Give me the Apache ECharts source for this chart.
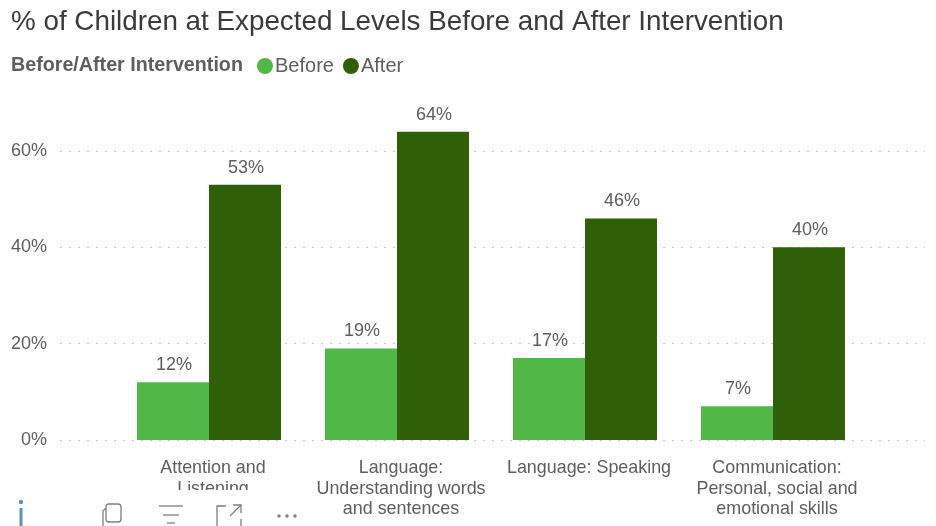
<!DOCTYPE html>
<html>
<head>
<meta charset="utf-8">
<style>html,body{margin:0;padding:0;background:#fff}#c{width:936px;height:526px}</style>
<script src="https://cdn.jsdelivr.net/npm/echarts@6/dist/echarts.min.js"></script>
</head>
<body>
<div id="c"></div>
<script>
const categories = [
  'Attention and\nListening',
  'Language:\nUnderstanding words\nand sentences',
  'Language: Speaking',
  'Communication:\nPersonal, social and\nemotional skills'
];
const before = [12, 19, 17, 7];
const after = [53, 64, 46, 40];
const yTicks = [0, 20, 40, 60];

const FONT = '"Liberation Sans", Arial, sans-serif';
const GREY = '#605E5C';
const ICON = '#7f7f7f';
const chart = echarts.init(document.getElementById('c'), null, { renderer: 'canvas' });

const stroke = { stroke: ICON, lineWidth: 1.3, fill: 'none' };
const valueLabel = {
  show: true, position: 'top', distance: 9, offset: [1, 1],
  formatter: '{c}%', color: GREY, fontSize: 18, fontFamily: FONT
};

chart.setOption({
  animation: false,
  backgroundColor: '#fff',
  textStyle: { fontFamily: FONT },
  title: [
    {
      text: '% of Children at Expected Levels Before and After Intervention',
      left: 6, top: 3,
      textStyle: { fontFamily: FONT, fontSize: 27.8, fontWeight: 'normal', color: '#3b3a39' }
    },
    {
      text: 'Before/After Intervention',
      left: 6, top: 51,
      textStyle: { fontFamily: FONT, fontSize: 19.7, fontWeight: 'bold', color: GREY }
    }
  ],
  legend: {
    left: 252, top: 51,
    icon: 'circle',
    itemWidth: 16, itemHeight: 16, itemGap: 9,
    textStyle: { fontFamily: FONT, fontSize: 20, color: GREY, padding: [0, 0, 0, -3] },
    data: ['Before', 'After']
  },
  grid: [
    { left: 115, right: 69, top: 54.6, bottom: 86 },
    { left: 60, right: 11, top: 54.6, bottom: 86 }
  ],
  xAxis: [
    {
      type: 'category', gridIndex: 0, data: categories,
      axisLine: { show: false }, axisTick: { show: false },
      axisLabel: {
        interval: 0, color: GREY, fontSize: 17.9, lineHeight: 20.5, margin: 18,
        fontFamily: FONT, padding: [0, 0, 0, 8]
      }
    },
    { type: 'category', gridIndex: 1, show: false, data: categories }
  ],
  yAxis: [
    { type: 'value', gridIndex: 0, min: 0, max: 80, interval: 20, show: false, splitLine: { show: false } },
    {
      type: 'value', gridIndex: 1, min: 0, max: 80, interval: 20,
      axisLine: { show: false }, axisTick: { show: false },
      axisLabel: {
        color: GREY, fontSize: 18, margin: 13, fontFamily: FONT, showMaxLabel: false,
        formatter: v => yTicks.includes(v) ? v + '%' : ''
      },
      splitLine: { show: true, showMaxLine: false, lineStyle: { type: [2, 7], color: '#c8c6c4', width: 1 } }
    }
  ],
  series: [
    {
      name: 'Before', type: 'bar', data: before, xAxisIndex: 0, yAxisIndex: 0,
      barWidth: 72, barGap: 0, z: 3,
      itemStyle: { color: '#51B848' },
      label: valueLabel
    },
    {
      name: 'After', type: 'bar', data: after, xAxisIndex: 0, yAxisIndex: 0,
      barWidth: 72, barGap: 0, z: 3,
      itemStyle: { color: '#2F5F08' },
      label: valueLabel
    }
  ],
  graphic: [
    // Category label area ends here; the second line of the first label is cut off
    { type: 'rect', z: 100, shape: { x: 150, y: 490, width: 130, height: 36 }, style: { fill: '#fff' } },
    // Info mark
    { type: 'circle', z: 101, shape: { cx: 21, cy: 502, r: 2.2 }, style: { fill: '#5f8fb5' } },
    { type: 'rect', z: 101, shape: { x: 19.5, y: 508, width: 3, height: 18 }, style: { fill: '#5f8fb5' } },
    // Copy icon
    { type: 'rect', z: 101, shape: { x: 106, y: 504, width: 15, height: 18, r: 3 }, style: stroke },
    { type: 'polyline', z: 101, shape: { points: [[106, 508], [103, 511], [103, 526]] }, style: stroke },
    // Filter icon
    { type: 'line', z: 101, shape: { x1: 159, y1: 506, x2: 183, y2: 506 }, style: stroke },
    { type: 'line', z: 101, shape: { x1: 163, y1: 515, x2: 179, y2: 515 }, style: stroke },
    { type: 'line', z: 101, shape: { x1: 167, y1: 523, x2: 175, y2: 523 }, style: stroke },
    // Expand icon
    { type: 'polyline', z: 101, shape: { points: [[226, 506], [217, 506], [217, 526]] }, style: stroke },
    { type: 'polyline', z: 101, shape: { points: [[233, 505], [241, 505], [241, 513]] }, style: stroke },
    { type: 'line', z: 101, shape: { x1: 241, y1: 505, x2: 230, y2: 516 }, style: stroke },
    { type: 'polyline', z: 101, shape: { points: [[241, 519], [241, 526]] }, style: stroke },
    // More menu
    { type: 'circle', z: 101, shape: { cx: 279, cy: 516, r: 1.7 }, style: { fill: ICON } },
    { type: 'circle', z: 101, shape: { cx: 287, cy: 516, r: 1.7 }, style: { fill: ICON } },
    { type: 'circle', z: 101, shape: { cx: 295, cy: 516, r: 1.7 }, style: { fill: ICON } }
  ]
});
</script>
</body>
</html>
